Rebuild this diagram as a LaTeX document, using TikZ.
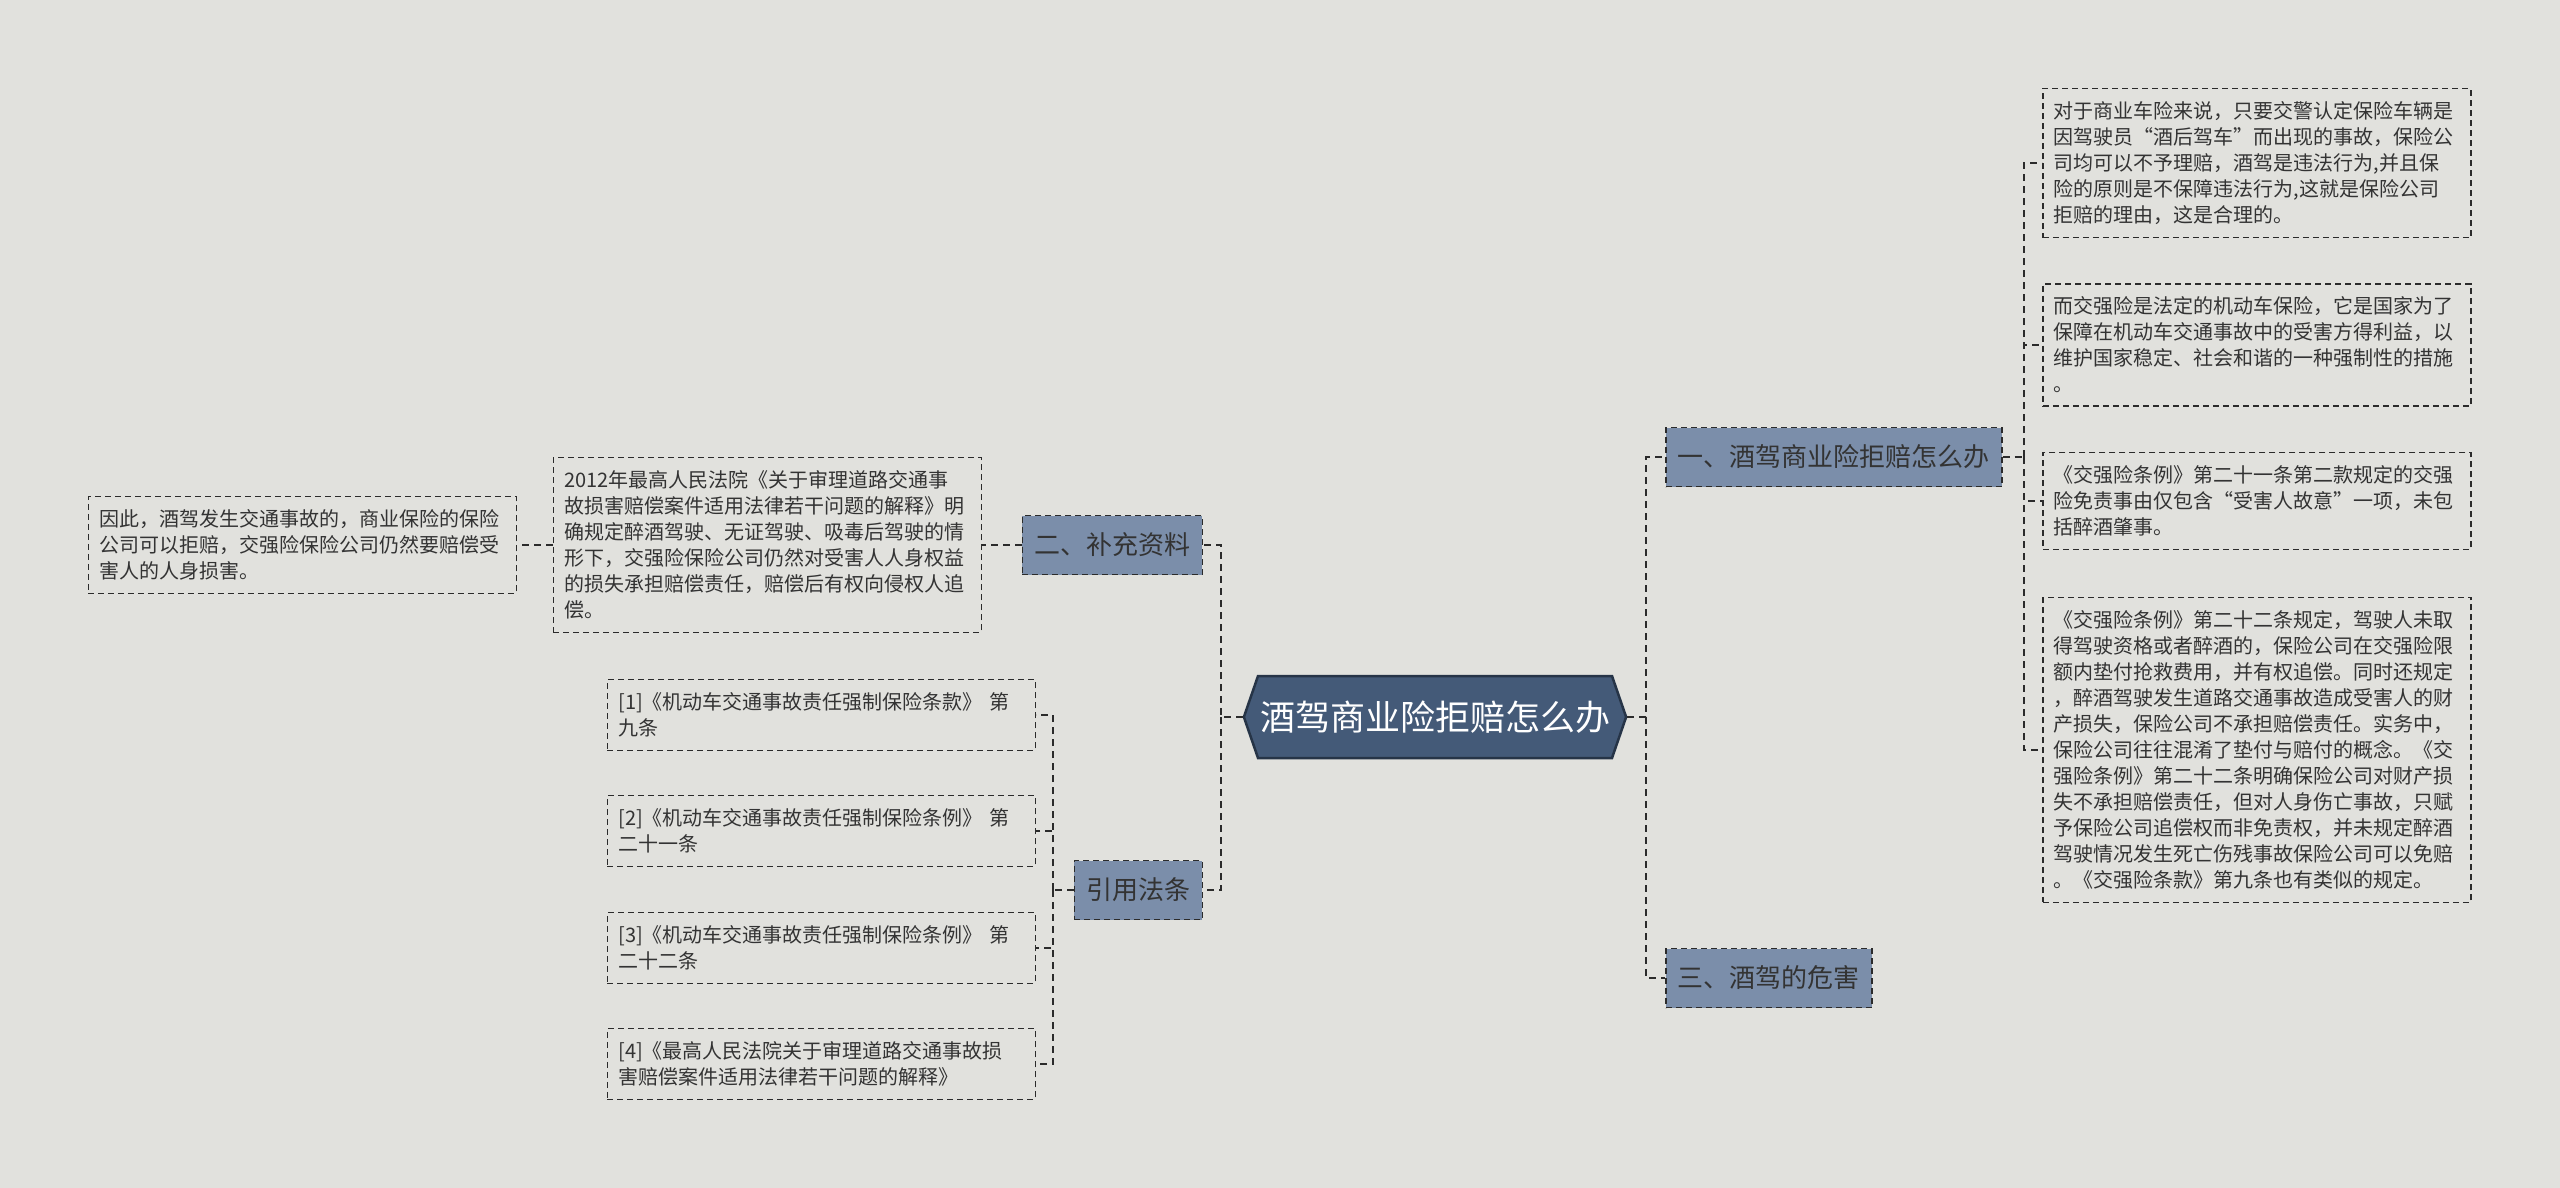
\documentclass[tikz,border=0pt]{standalone}
\usepackage{fontspec}
\usepackage{tikz}
\usetikzlibrary{positioning,shapes.symbols}
\newfontfamily\cjk{Noto Sans CJK SC}
\definecolor{paper}{HTML}{E1E1DD}
\definecolor{rootfill}{HTML}{445A78}
\definecolor{rootline}{HTML}{263447}
\definecolor{branchfill}{HTML}{7B8EAA}
\definecolor{ink}{HTML}{333333}
\definecolor{wire}{HTML}{2B2B2B}
\tikzset{
  rootnode/.style={shape=signal, signal to=west and east, signal pointer angle=142,
    fill=rootfill, draw=rootline, line width=2.5pt, text=white,
    font=\cjk\fontsize{35}{40}\selectfont, minimum height=82pt, inner xsep=2pt},
  branch/.style={fill=branchfill, draw=wire, dash pattern=on 6pt off 4pt, line width=1.5pt,
    text=ink, font=\cjk\fontsize{26}{30}\selectfont, minimum height=59pt, inner xsep=12pt},
  leaf/.style={draw=wire, dash pattern=on 6pt off 4pt, line width=1.5pt, text=ink,
    font=\cjk\fontsize{20}{26}\selectfont, align=left, text width=406pt, inner xsep=11pt, inner ysep=13pt},
  link/.style={draw=wire, line width=2.5pt, dash pattern=on 7pt off 5pt}
}

\begin{document}
\begin{tikzpicture}[x=1pt,y=-1pt]
  \fill[paper] (0,0) rectangle (2560,1188);
  \useasboundingbox (0,0) rectangle (2560,1188);

  % centre and main branches
  \node[rootnode] (root) at (1435,717) {酒驾商业险拒赔怎么办};
  \node[branch, anchor=west] (b1) at (1665,457) {一、酒驾商业险拒赔怎么办};
  \node[branch, anchor=west] (b3) at (1665,978) {三、酒驾的危害};
  \node[branch, anchor=east] (b2) at (1203,545) {二、补充资料};
  \node[branch, anchor=east] (b4) at (1203,890) {引用法条};

  % right side
  \node[leaf, anchor=west] (r1) at (2042,163) {对于商业车险来说，只要交警认定保险车辆是\\因驾驶员“酒后驾车”而出现的事故，保险公\\司均可以不予理赔，酒驾是违法行为,并且保\\险的原则是不保障违法行为,这就是保险公司\\拒赔的理由，这是合理的。};
  \node[leaf, anchor=west] (r2) at (2042,345) {而交强险是法定的机动车保险，它是国家为了\\保障在机动车交通事故中的受害方得利益，以\\维护国家稳定、社会和谐的一种强制性的措施\\。};
  \node[leaf, anchor=west] (r3) at (2042,501) {《交强险条例》第二十一条第二款规定的交强\\险免责事由仅包含“受害人故意”一项，未包\\括醉酒肇事。};
  \node[leaf, anchor=west] (r4) at (2042,750) {《交强险条例》第二十二条规定，驾驶人未取\\得驾驶资格或者醉酒的，保险公司在交强险限\\额内垫付抢救费用，并有权追偿。同时还规定\\，醉酒驾驶发生道路交通事故造成受害人的财\\产损失，保险公司不承担赔偿责任。实务中，\\保险公司往往混淆了垫付与赔付的概念。《交\\强险条例》第二十二条明确保险公司对财产损\\失不承担赔偿责任，但对人身伤亡事故，只赋\\予保险公司追偿权而非免责权，并未规定醉酒\\驾驶情况发生死亡伤残事故保险公司可以免赔\\。《交强险条款》第九条也有类似的规定。};

  % left side
  \node[leaf, anchor=east] (l1) at (982,545) {2012年最高人民法院《关于审理道路交通事\\故损害赔偿案件适用法律若干问题的解释》明\\确规定醉酒驾驶、无证驾驶、吸毒后驾驶的情\\形下，交强险保险公司仍然对受害人人身权益\\的损失承担赔偿责任，赔偿后有权向侵权人追\\偿。};
  \node[leaf, anchor=east] (l2) at (517,545) {因此，酒驾发生交通事故的，商业保险的保险\\公司可以拒赔，交强险保险公司仍然要赔偿受\\害人的人身损害。};
  \node[leaf, anchor=east] (f1) at (1036,715) {[1]《机动车交通事故责任强制保险条款》 第\\九条};
  \node[leaf, anchor=east] (f2) at (1036,831) {[2]《机动车交通事故责任强制保险条例》 第\\二十一条};
  \node[leaf, anchor=east] (f3) at (1036,948) {[3]《机动车交通事故责任强制保险条例》 第\\二十二条};
  \node[leaf, anchor=east] (f4) at (1036,1064) {[4]《最高人民法院关于审理道路交通事故损\\害赔偿案件适用法律若干问题的解释》};

  % connectors
  \coordinate (rtrunk) at (1646,717);
  \coordinate (ltrunk) at (1221,717);
  \coordinate (b1trunk) at (2024,457);
  \coordinate (b4trunk) at (1053,890);
  \draw[link] (root.east) -- (rtrunk) |- (b1.west);
  \draw[link] (rtrunk) |- (b3.west);
  \draw[link] (root.west) -- (ltrunk) |- (b2.east);
  \draw[link] (ltrunk) |- (b4.east);
  \draw[link] (b1.east) -- (b1trunk);
  \foreach \leafname in {r1,r2,r3,r4}
    \draw[link] (b1trunk) |- (\leafname.west);
  \draw[link] (b2.west) -- (l1.east);
  \draw[link] (l1.west) -- (l2.east);
  \draw[link] (b4.west) -- (b4trunk);
  \foreach \leafname in {f1,f2,f3,f4}
    \draw[link] (b4trunk) |- (\leafname.east);
\end{tikzpicture}
\end{document}
